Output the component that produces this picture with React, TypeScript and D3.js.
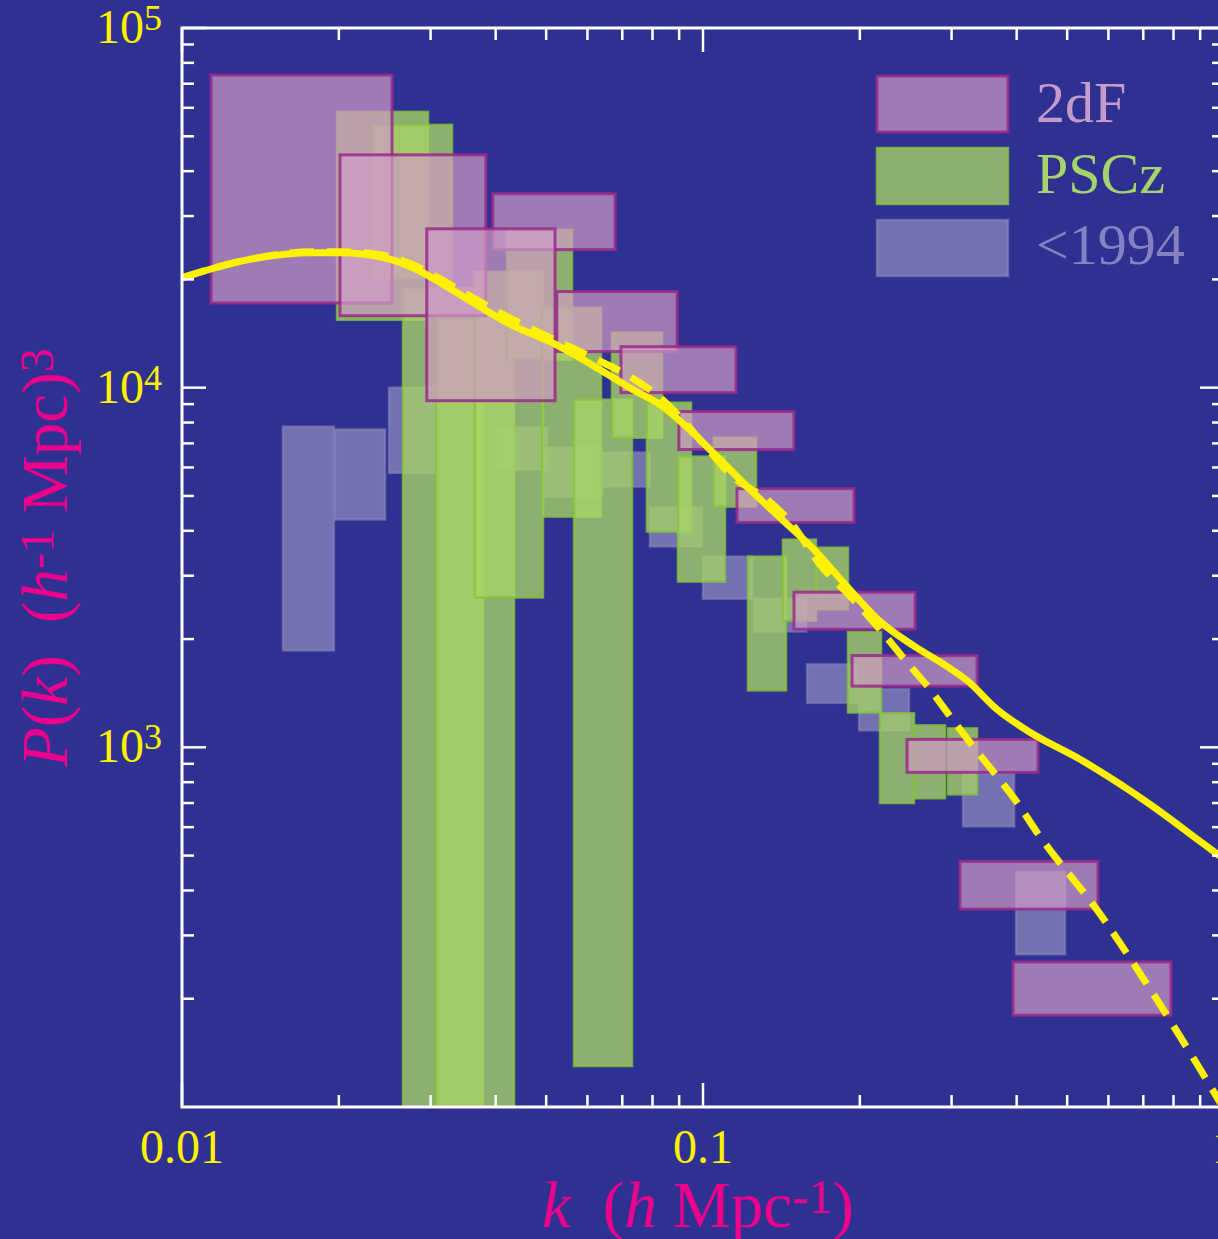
import React from "react";
import * as d3 from "d3";

// ---------- data ----------
type Box = [number, number, number, number]; // kMin, kMax, Plow, Phigh

const twoDF: Box[] = [
  [0.01137, 0.0253, 17200, 74000],
  [0.0201, 0.0383, 15850, 44400],
  [0.0395, 0.0678, 24200, 34600],
  [0.0295, 0.052, 9200, 27650],
  [0.0524, 0.0892, 12600, 18500],
  [0.0696, 0.1157, 9690, 13000],
  [0.0899, 0.1495, 6730, 8580],
  [0.1162, 0.1949, 4220, 5240],
  [0.1495, 0.2553, 2130, 2700],
  [0.1932, 0.3357, 1480, 1800],
  [0.2464, 0.4395, 852, 1052],
  [0.3114, 0.5731, 355, 482],
  [0.3936, 0.791, 180, 253],
];

const pscz: Box[] = [
  [0.01984, 0.02966, 15450, 58450],
  [0.02315, 0.03298, 19950, 53780],
  [0.02656, 0.03783, 1, 18960],
  [0.03073, 0.04338, 1, 15750],
  [0.0365, 0.04931, 2610, 21000],
  [0.04205, 0.05605, 11960, 27470],
  [0.04909, 0.06372, 4380, 16680],
  [0.05655, 0.07307, 130, 9260],
  [0.06688, 0.08343, 7260, 14220],
  [0.07805, 0.09484, 3980, 9085],
  [0.08954, 0.1102, 2890, 6430],
  [0.1049, 0.1264, 4670, 7260],
  [0.122, 0.1443, 1440, 3390],
  [0.1424, 0.1648, 2250, 3780],
  [0.1648, 0.1898, 2420, 3590],
  [0.1898, 0.2196, 1250, 2090],
  [0.2186, 0.2541, 700, 1243],
  [0.2553, 0.2914, 722, 1151],
  [0.2953, 0.3357, 740, 1129],
];

const pre1994: Box[] = [
  [0.01562, 0.01957, 1860, 7790],
  [0.01966, 0.02453, 4300, 7650],
  [0.02497, 0.03087, 5800, 10000],
  [0.04043, 0.05018, 5920, 7740],
  [0.04974, 0.064, 4980, 6810],
  [0.064, 0.07911, 5310, 6600],
  [0.07911, 0.0996, 3620, 4640],
  [0.1, 0.1242, 2590, 3390],
  [0.1253, 0.1577, 2100, 2590],
  [0.1584, 0.1975, 1330, 1700],
  [0.1993, 0.2486, 1115, 1450],
  [0.3155, 0.3954, 603, 847],
  [0.3989, 0.4953, 266, 450],
];

const solidK = [0.01, 0.01333, 0.01784, 0.02011, 0.02399, 0.02776, 0.03226, 0.03733, 0.04319, 0.05085, 0.06344, 0.07338, 0.0827, 0.09155, 0.1064, 0.1231, 0.1424, 0.1626, 0.189, 0.2186, 0.253, 0.2939, 0.3211, 0.3667, 0.4242, 0.5291, 0.7211, 0.8995, 1.0];
const solidP = [20210, 22670, 23710, 23710, 23110, 21540, 19080, 16790, 14870, 13420, 11220, 9873, 8969, 7943, 6432, 5209, 4272, 3571, 2800, 2239, 1920, 1679, 1535, 1275, 1101, 926, 694, 548, 489];

const dashedK = [0.01, 0.01333, 0.01784, 0.02011, 0.02399, 0.02776, 0.03226, 0.03733, 0.04319, 0.05085, 0.0626, 0.07242, 0.0827, 0.09318, 0.1031, 0.1142, 0.1327, 0.1469, 0.1677, 0.1941, 0.2186, 0.2464, 0.2728, 0.298, 0.3298, 0.3667, 0.4007, 0.4377, 0.5781, 0.7211, 0.8995, 1.0];
const dashedP = [20210, 22670, 23870, 23870, 23410, 21960, 19570, 17340, 15450, 13770, 11960, 10730, 9380, 7893, 6640, 5659, 4886, 4244, 3224, 2577, 2127, 1722, 1449, 1220, 1006, 831, 703, 580, 344, 213, 127.5, 98.7];

const xMajor = [0.01, 0.1, 1];
const xMajorLabels = ["0.01", "0.1", "1"];
const yMajor = [1e3, 1e4, 1e5];
const yMajorExp = ["3", "4", "5"];
const legendNames = ["2dF", "PSCz", "<1994"];

// ---------- styles ----------
const BG = "#2e3192";
const YELLOW = "#fff200";
const MAGENTA = "#ec008c";
const FONT = "'Liberation Serif', 'Times New Roman', serif";

const styles = {
  twoDF: { fill: "#ce9bc4", fillOpacity: 0.7, stroke: "#9a298b", strokeOpacity: 0.85, strokeWidth: 3 },
  pscz: { fill: "#a8d466", fillOpacity: 0.78, stroke: "#86c440", strokeOpacity: 0.8, strokeWidth: 2.5 },
  pre1994: { fill: "#a39dc7", fillOpacity: 0.6, stroke: "#8886ba", strokeOpacity: 0.6, strokeWidth: 2.5 },
};
const legendText = ["#c79bc9", "#a6d36b", "#8681c2"];

const W = 1218, H = 1239;
const X0 = 182, X1 = 1224, Y0 = 28, Y1 = 1107;

export default function App() {
  const x = d3.scaleLog().domain([0.01, 1]).range([X0, X1]);
  const y = d3.scaleLog().domain([100, 1e5]).range([Y1, Y0]);

  const line = d3
    .line<[number, number]>()
    .x((d) => x(d[0]))
    .y((d) => y(d[1]))
    .curve(d3.curveMonotoneX);

  const solid = line(solidK.map((k, i) => [k, solidP[i]] as [number, number])) || "";
  const dashed = line(dashedK.map((k, i) => [k, dashedP[i]] as [number, number])) || "";

  const xMinor: number[] = [];
  [0.01, 0.1].forEach((d) => {
    for (let m = 2; m <= 9; m++) xMinor.push(m * d);
  });
  const yMinor: number[] = [];
  [100, 1000, 10000].forEach((d) => {
    for (let m = 2; m <= 9; m++) yMinor.push(m * d);
  });

  const boxes = (data: Box[], st: any, key: string) =>
    data.map((b, i) => {
      const xa = x(b[0]), xb = x(b[1]);
      const ya = y(Math.max(b[3], 1)), yb = y(Math.max(b[2], 1));
      return <rect key={key + i} x={xa} y={ya} width={xb - xa} height={yb - ya} {...st} />;
    });

  const MAJ = 24, MIN = 12;

  return (
    <svg
      width={W}
      height={H}
      style={{ position: "absolute", left: 0, top: 0, background: BG }}
      fontFamily={FONT}
    >
      <rect x={0} y={0} width={W} height={H} fill={BG} />
      <defs>
        <clipPath id="plot">
          <rect x={X0} y={Y0} width={X1 - X0} height={Y1 - Y0} />
        </clipPath>
      </defs>

      <g clipPath="url(#plot)">
        {boxes(pre1994, styles.pre1994, "b")}
        {boxes(pscz, styles.pscz, "g")}
        {boxes(twoDF, styles.twoDF, "p")}
        <path d={dashed} fill="none" stroke={YELLOW} strokeWidth={7} strokeDasharray="24 13" />
        <path d={solid} fill="none" stroke={YELLOW} strokeWidth={7} />
      </g>

      {/* frame */}
      <rect x={X0} y={Y0} width={X1 - X0} height={Y1 - Y0} fill="none" stroke="#fff" strokeWidth={3} />

      {/* ticks */}
      <g stroke="#fff" strokeWidth={2.5}>
        {xMajor.map((v) => (
          <g key={"xM" + v}>
            <line x1={x(v)} x2={x(v)} y1={Y1} y2={Y1 - MAJ} />
            <line x1={x(v)} x2={x(v)} y1={Y0} y2={Y0 + MAJ} />
          </g>
        ))}
        {xMinor.map((v) => (
          <g key={"xm" + v}>
            <line x1={x(v)} x2={x(v)} y1={Y1} y2={Y1 - MIN} />
            <line x1={x(v)} x2={x(v)} y1={Y0} y2={Y0 + MIN} />
          </g>
        ))}
        {yMajor.map((v) => (
          <g key={"yM" + v}>
            <line x1={X0} x2={X0 + MAJ} y1={y(v)} y2={y(v)} />
            <line x1={X1} x2={X1 - MAJ} y1={y(v)} y2={y(v)} />
          </g>
        ))}
        {yMinor.map((v) => (
          <g key={"ym" + v}>
            <line x1={X0} x2={X0 + MIN} y1={y(v)} y2={y(v)} />
            <line x1={X1} x2={X1 - MIN} y1={y(v)} y2={y(v)} />
          </g>
        ))}
      </g>

      {/* tick labels */}
      {xMajor.map((v, i) => (
        <text key={"xl" + v} x={x(v)} y={1163} textAnchor="middle" fontSize={48} fill={YELLOW}>
          {xMajorLabels[i]}
        </text>
      ))}
      {yMajor.map((v, i) => (
        <text key={"yl" + v} x={162} y={y(v) + 15} textAnchor="end" fontSize={48} fill={YELLOW}>
          10
          <tspan dy={-13} fontSize={36}>
            {yMajorExp[i]}
          </tspan>
        </text>
      ))}

      {/* axis titles */}
      <text x={542} y={1227} fontSize={65} fill={MAGENTA}>
        <tspan fontStyle="italic">k</tspan>
        <tspan dx={32}>(</tspan>
        <tspan fontStyle="italic">h</tspan>
        <tspan dx={16}>Mpc</tspan>
        <tspan dy={-14} fontSize={48}>-1</tspan>
        <tspan dy={14}>)</tspan>
      </text>
      <text transform="translate(67,767) rotate(-90)" fontSize={65} fill={MAGENTA}>
        <tspan fontStyle="italic">P</tspan>
        <tspan>(</tspan>
        <tspan fontStyle="italic">k</tspan>
        <tspan>)</tspan>
        <tspan dx={32}>(</tspan>
        <tspan fontStyle="italic">h</tspan>
        <tspan dy={-14} fontSize={48}>-1</tspan>
        <tspan dx={16} dy={14}>Mpc)</tspan>
        <tspan dy={-14} fontSize={48}>3</tspan>
      </text>

      {/* legend */}
      {[styles.twoDF, styles.pscz, styles.pre1994].map((st, i) => (
        <g key={"lg" + i}>
          <rect x={877} y={76 + i * 72} width={131} height={56} {...st} />
          <text x={1036} y={122 + i * 71} fontSize={58} fill={legendText[i]}>
            {legendNames[i]}
          </text>
        </g>
      ))}
    </svg>
  );
}
